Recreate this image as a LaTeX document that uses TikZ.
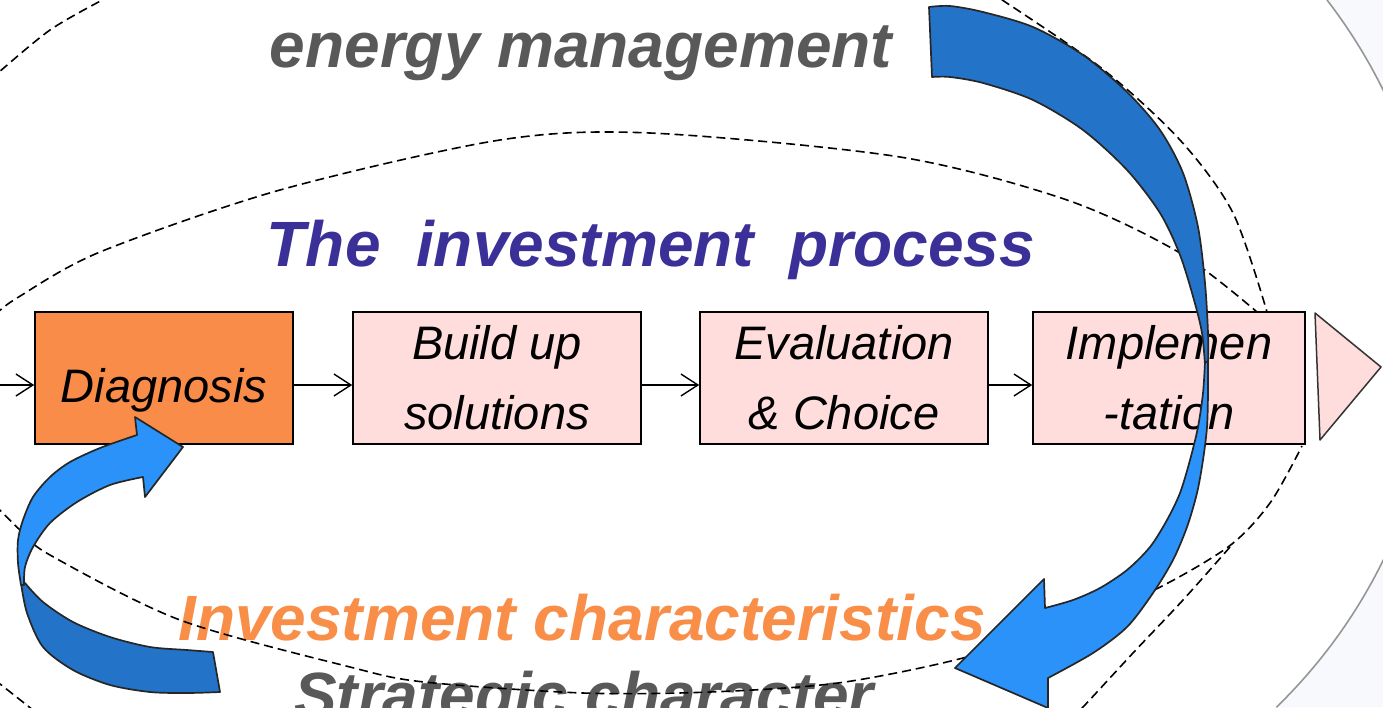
\documentclass[tikz,border=0pt]{standalone}
\usepackage{fontspec}
\setmainfont{Liberation Sans}
\usetikzlibrary{arrows.meta}

\definecolor{boxorange}{RGB}{248,140,72}
\definecolor{boxpink}{RGB}{255,221,221}
\definecolor{titlegray}{RGB}{89,89,89}
\definecolor{titleblue}{RGB}{58,48,152}
\definecolor{traitorange}{RGB}{248,142,72}
\definecolor{arrowdark}{RGB}{35,116,200}
\definecolor{arrowlight}{RGB}{42,146,248}
\definecolor{panel}{RGB}{247,249,253}
\definecolor{rim}{RGB}{150,150,150}

\begin{document}
\begin{tikzpicture}[x=1pt,y=-1pt,
  ringline/.style={draw=black, line width=1.6pt, dash pattern=on 9pt off 5pt},
  headline/.style={font=\fontsize{64}{64}\selectfont\bfseries\itshape, inner sep=0pt, anchor=base},
  stagebox/.style={draw=black, line width=1.6pt, fill=boxpink, inner sep=0pt, align=center,
    font=\fontsize{47}{70}\selectfont\itshape, minimum height=132pt},
  flowarrow/.style={draw=black, line width=1.4pt, -{Straight Barb[length=17pt,width=22pt]}},
  backband/.style={fill=arrowdark, draw=black!85, line width=1.7pt, line join=round},
  frontband/.style={fill=arrowlight, draw=black!85, line width=1.7pt, line join=round},
]
\useasboundingbox (0,0) rectangle (1383,707);
\clip (0,0) rectangle (1383,707);

% page background with the pale panel beyond the large arc
\fill[white] (0,0) rectangle (1383,707);
\coordinate (rimtop) at (1327,0);
\fill[panel] (rimtop) arc[start angle=-37.6, end angle=45.8, radius=533]
  -- (1383,707) -- (1383,0) -- cycle;
\draw[rim, line width=1.6pt] (rimtop) arc[start angle=-37.6, end angle=45.8, radius=533];

% headings
\node[headline, text=titlegray] (energy) at (581,67) {energy management};
\node[headline, text=titleblue] (process) at (651,266) {The\ \ investment\ \ process};
\node[headline, text=traitorange] (traits) at (582,640) {Investment characteristics};
\node[headline, text=titlegray] (strategy) at (584,717) {Strategic character};

% dashed rings
\draw[ringline] plot[smooth] coordinates {(-10,80) (50,30) (110,-4)};
\draw[ringline] plot[smooth] coordinates {(990,-8) (1100,67) (1180,140) (1233,213) (1267,312)};
\draw[ringline] plot[smooth] coordinates {(-5,315) (17,298) (100,252) (280,190) (500,140)
  (650,133) (900,157) (1067,200) (1180,253) (1257,312)};
\draw[ringline] plot[smooth] coordinates {(-5,505) (20,530) (50,555) (180,620) (350,667)
  (424,682) (583,693) (710,692) (838,683) (963,658) (1060,625) (1148,593) (1228,547)
  (1270,503) (1302,446)};
\draw[ringline] plot[smooth] coordinates {(1230,547) (1183,600) (1133,653) (1083,707) (1075,713)};
\draw[ringline] (-5,680) -- (33,710);

% process stages
\node[stagebox, fill=boxorange, minimum width=258pt, text height=48pt, text depth=0pt]
  (diag) at (164,378) {Diagnosis};
\node[stagebox, minimum width=288pt] (build) at (497,378) {Build up\\solutions};
\node[stagebox, minimum width=288pt] (eval) at (844,378) {Evaluation\\\& Choice};
\node[stagebox, minimum width=272pt] (impl) at (1169,378) {Implemen\\-tation};
\filldraw[fill=boxpink, draw=black!80, line width=1.5pt, line join=round]
  (1315,313) -- (1381,367) -- (1320,440) -- cycle;

\coordinate (inlet) at (0,385);
\draw[flowarrow] (inlet) -- ([yshift=-7pt]diag.west);
\draw[flowarrow] ([yshift=-7pt]diag.east) -- ([yshift=-7pt]build.west);
\draw[flowarrow] ([yshift=-7pt]build.east) -- ([yshift=-7pt]eval.west);
\draw[flowarrow] ([yshift=-7pt]eval.east) -- ([yshift=-7pt]impl.west);

% large curved arrow: back face, then front face with head
\filldraw[backband] plot[smooth] coordinates {(929,7) (950,6) (983,12) (1033,27) (1083,55)
  (1127,92) (1160,130) (1183,173) (1198,227) (1205,283) (1208,333) (1208,365)}
  -- plot[smooth] coordinates {(1205,365) (1202,333) (1194,300) (1180,255) (1160,213)
  (1127,170) (1083,130) (1033,100) (983,83) (950,77) (932,77)} -- cycle;
\filldraw[frontband] plot[smooth] coordinates {(1205,362) (1203,393) (1198,427) (1190,460)
  (1180,493) (1167,520) (1150,547) (1127,570) (1100,588) (1073,600) (1045,608)}
  -- (1044,579) -- (955,668) -- (1048,708)
  -- plot[smooth] coordinates {(1048,678) (1093,653) (1127,627) (1153,593) (1173,560)
  (1187,527) (1197,493) (1203,460) (1207,427) (1208,393) (1208,362)} -- cycle;

% small curved arrow back into the diagnosis
\filldraw[backband] plot[smooth] coordinates {(213,652) (187,650) (150,647) (110,637)
  (73,622) (43,602) (25,583)}
  -- plot[smooth] coordinates {(21,583) (27,613) (43,647) (73,670) (110,685) (150,692)
  (187,693) (220,692)} -- cycle;
\filldraw[frontband] plot[smooth] coordinates {(21,585) (18,563) (18,540) (23,520) (33,497)
  (50,477) (70,462) (100,448) (137,435)}
  -- (135,417) -- (183,447) -- (145,497)
  -- plot[smooth] coordinates {(143,477) (110,485) (77,502) (50,523) (33,547) (25,567)
  (24,585)} -- cycle;
\end{tikzpicture}
\end{document}
